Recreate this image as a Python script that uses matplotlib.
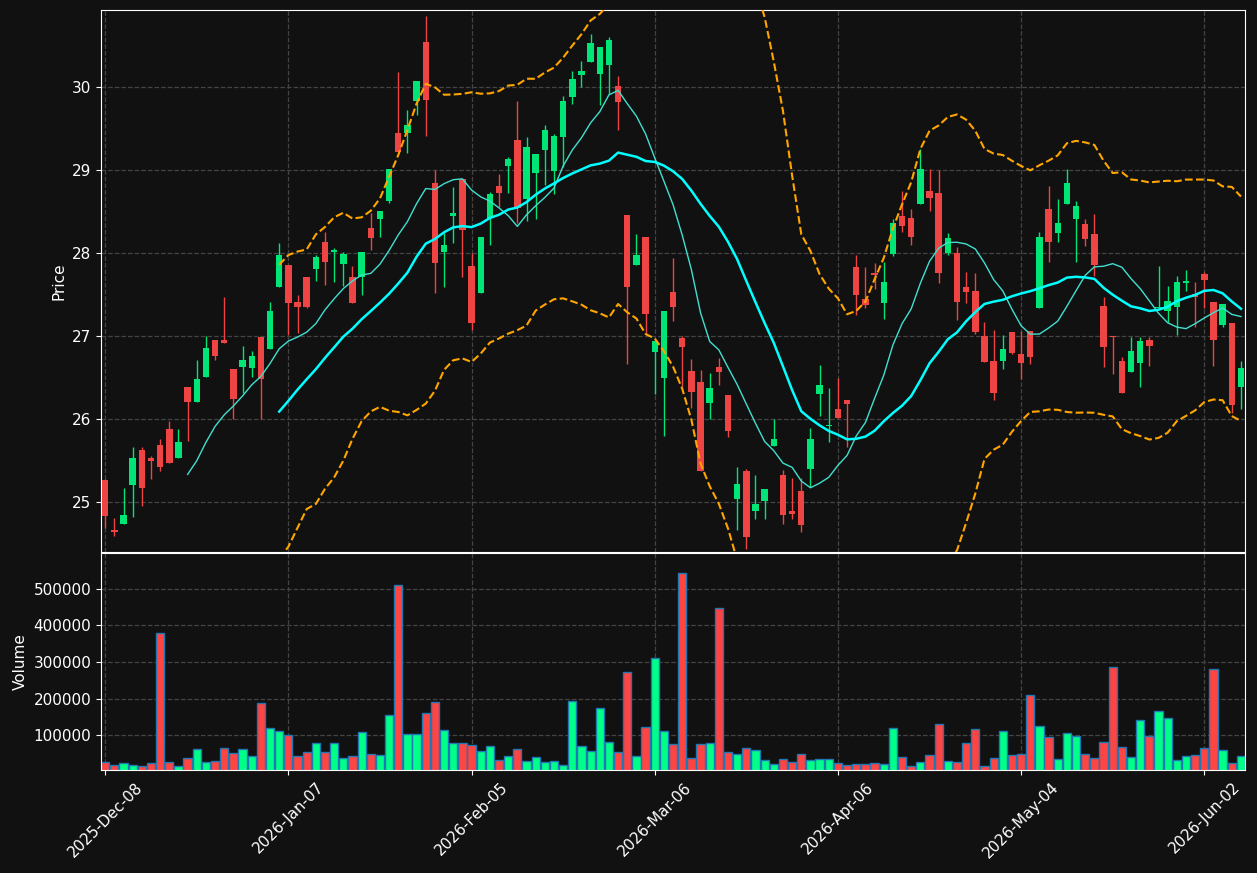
import matplotlib
matplotlib.use("Agg")
import matplotlib.pyplot as plt
import numpy as np
import pandas as pd

# daily OHLC + volume, 125 trading days starting 2025-12-08
holidays = ['2025-12-25', '2026-01-01', '2026-01-19', '2026-02-16', '2026-04-03', '2026-05-25']

opens = [25.27, 24.66, 24.74, 25.21, 25.63, 25.53, 25.69, 25.88, 25.53, 26.39,
         26.21, 26.51, 26.95, 26.95, 26.61, 26.63, 26.62, 26.99, 26.84, 27.59,
         27.86, 27.41, 27.71, 27.81, 28.13, 28.01, 27.87, 27.71, 27.71, 28.30,
         28.41, 28.63, 29.45, 29.45, 29.84, 30.55, 28.84, 28.02, 28.45, 28.90,
         27.84, 27.52, 28.43, 28.81, 29.05, 29.37, 28.65, 28.97, 29.24, 28.99,
         29.40, 29.88, 30.15, 30.30, 30.16, 30.27, 30.02, 28.46, 27.86, 28.20,
         26.81, 26.50, 27.53, 26.98, 26.58, 26.45, 26.19, 26.63, 26.29, 25.04,
         25.37, 24.90, 25.02, 25.68, 25.33, 24.89, 25.13, 25.40, 26.30, 25.92,
         26.12, 26.23, 27.83, 27.45, 27.76, 27.40, 27.99, 28.45, 28.42, 28.59,
         28.75, 28.72, 28.00, 28.00, 27.59, 27.54, 27.00, 26.70, 26.70, 27.05,
         26.78, 27.06, 27.34, 28.53, 28.24, 28.59, 28.41, 28.35, 28.23, 27.37,
         27.00, 26.70, 26.57, 26.68, 26.96, 27.34, 27.30, 27.35, 27.64, 27.51,
         27.75, 27.41, 27.14, 27.16, 26.39]
highs = [25.28, 24.81, 25.17, 25.67, 25.67, 25.56, 25.76, 25.98, 25.88, 26.39,
         26.71, 27.00, 26.95, 27.47, 26.61, 26.88, 26.82, 26.99, 27.41, 28.12,
         27.86, 27.50, 27.71, 27.98, 28.25, 28.06, 28.01, 27.85, 28.01, 28.48,
         28.51, 29.01, 30.18, 29.73, 30.07, 30.86, 29.00, 28.24, 28.80, 28.90,
         28.00, 28.19, 28.74, 28.95, 29.16, 29.84, 29.40, 29.19, 29.55, 29.44,
         29.89, 30.19, 30.31, 30.64, 30.49, 30.61, 30.14, 28.46, 28.23, 28.20,
         26.94, 27.30, 27.94, 27.00, 26.73, 26.59, 26.56, 26.74, 26.29, 25.42,
         25.40, 25.33, 25.16, 26.00, 25.39, 25.29, 25.29, 25.90, 26.65, 26.38,
         26.50, 26.23, 27.98, 27.83, 27.88, 27.89, 28.41, 28.75, 28.53, 29.26,
         29.01, 29.00, 28.24, 28.07, 27.77, 27.76, 27.17, 27.07, 27.02, 27.05,
         27.06, 27.06, 28.25, 28.81, 28.65, 29.01, 28.63, 28.41, 28.47, 27.47,
         27.00, 26.75, 26.99, 26.99, 26.99, 27.85, 27.60, 27.73, 27.80, 27.65,
         27.77, 27.41, 27.39, 27.16, 26.70]
lows = [24.69, 24.59, 24.74, 24.82, 24.96, 25.28, 25.37, 25.47, 25.53, 25.74,
        26.21, 26.51, 26.71, 26.92, 26.00, 26.31, 26.51, 26.00, 26.84, 27.59,
        27.01, 27.04, 27.34, 27.66, 27.62, 27.65, 27.61, 27.40, 27.50, 28.04,
        28.20, 28.61, 29.22, 29.21, 29.66, 29.41, 27.52, 27.59, 28.12, 27.71,
        27.07, 27.52, 28.10, 28.56, 28.73, 28.36, 28.39, 28.41, 28.82, 28.71,
        29.04, 29.80, 30.00, 30.30, 29.78, 29.92, 29.48, 26.66, 27.86, 27.03,
        26.30, 25.80, 27.18, 26.39, 26.13, 25.37, 26.00, 26.41, 25.79, 24.66,
        24.44, 24.80, 24.80, 25.68, 24.74, 24.80, 24.64, 25.18, 26.04, 25.72,
        26.02, 25.67, 27.25, 27.34, 27.57, 27.21, 27.97, 28.25, 28.10, 28.59,
        28.51, 27.64, 27.98, 27.19, 27.40, 27.03, 26.69, 26.23, 26.61, 26.78,
        26.49, 26.66, 27.34, 27.89, 28.14, 28.59, 27.90, 28.09, 27.73, 26.63,
        26.55, 26.31, 26.57, 26.39, 26.64, 27.34, 27.17, 27.02, 27.55, 27.11,
        27.34, 26.64, 27.11, 26.07, 26.12]
closes = [24.83, 24.64, 24.84, 25.53, 25.17, 25.50, 25.43, 25.47, 25.73, 26.21,
          26.48, 26.86, 26.76, 26.92, 26.24, 26.71, 26.76, 26.48, 27.30, 27.98,
          27.40, 27.35, 27.35, 27.95, 27.90, 28.04, 27.99, 27.40, 28.01, 28.18,
          28.51, 29.01, 29.22, 29.55, 30.07, 29.85, 27.88, 28.10, 28.49, 28.28,
          27.16, 28.19, 28.71, 28.73, 29.14, 28.55, 29.28, 29.19, 29.49, 29.41,
          29.83, 30.10, 30.19, 30.53, 30.49, 30.57, 29.82, 27.59, 27.98, 27.27,
          26.94, 27.30, 27.35, 26.87, 26.33, 25.37, 26.37, 26.57, 25.86, 25.22,
          24.58, 24.98, 25.16, 25.76, 24.84, 24.86, 24.72, 25.76, 26.41, 25.93,
          26.02, 26.18, 27.50, 27.38, 27.74, 27.65, 28.37, 28.33, 28.20, 29.01,
          28.67, 27.76, 28.18, 27.41, 27.53, 27.05, 26.69, 26.32, 26.84, 26.80,
          26.68, 26.75, 28.19, 28.14, 28.36, 28.84, 28.57, 28.17, 27.86, 26.87,
          26.99, 26.32, 26.82, 26.94, 26.88, 27.35, 27.42, 27.65, 27.67, 27.47,
          27.68, 26.95, 27.39, 26.17, 26.62]
volumes = [26000, 17800, 23300, 17800, 15000, 23300, 379500, 26000, 15000, 37000,
           61650, 26000, 28800, 64400, 50700, 61650, 42500, 187700, 119200, 111000,
           100000, 42500, 53400, 78100, 53400, 78100, 37000, 42500, 108200, 48000,
           45200, 154800, 511000, 102700, 102700, 160300, 190400, 113700, 78100, 78100,
           72600, 56200, 69900, 31500, 42500, 61650, 28800, 39700, 26000, 28800,
           17800, 193200, 69900, 56200, 174000, 80800, 53400, 272600, 42500, 121900,
           311000, 111000, 75300, 543900, 37000, 75300, 78100, 448000, 53400, 48000,
           64400, 58900, 31500, 20500, 34200, 26000, 48000, 31500, 34200, 34200,
           23300, 17800, 20500, 20500, 23300, 20500, 119200, 39700, 15000, 26000,
           45200, 130200, 28800, 26000, 78100, 116500, 15000, 37000, 111000, 45200,
           48000, 209600, 124700, 94500, 34200, 105500, 97300, 48000, 37000, 80800,
           286300, 67100, 39700, 141100, 97300, 165800, 146600, 31500, 42500, 45200,
           64400, 280800, 58900, 23300, 42500]

dates = pd.bdate_range('2025-12-08', periods=len(closes), freq='C', holidays=holidays)
df = pd.DataFrame({'Open': opens, 'High': highs, 'Low': lows,
                   'Close': closes, 'Volume': volumes}, index=dates)

# indicators
df['MA10'] = df['Close'].rolling(10).mean()
df['MA20'] = df['Close'].rolling(20).mean()
std20 = df['Close'].rolling(20).std(ddof=0)
df['Upper'] = df['MA20'] + 2 * std20
df['Lower'] = df['MA20'] - 2 * std20

bg = '#111111'
up_c, down_c = '#00e676', '#ef4444'
vup_c, vdown_c = '#00ff88', '#ff4444'

fig = plt.figure(figsize=(12.57, 8.73), dpi=100, facecolor=bg)
ax1 = fig.add_axes([0.0804, 0.3677, 0.9101, 0.6208])
ax2 = fig.add_axes([0.0804, 0.118, 0.9101, 0.2487], sharex=ax1)

x = np.arange(len(df))
o = df['Open'].values
c = df['Close'].values
up = c >= o
colors = np.where(up, up_c, down_c)

# candles
ax1.vlines(x, df['Low'], df['High'], colors=colors, linewidth=1, zorder=2)
body = np.maximum(np.abs(c - o), 0.012)
ax1.bar(x, body, bottom=np.minimum(o, c), width=0.7, color=colors, linewidth=0, zorder=3)

ax1.plot(x, df['MA10'], color='#40e0d0', linewidth=1, zorder=4)
ax1.plot(x, df['MA20'], color='#00ffff', linewidth=1.8, zorder=4)
ax1.plot(x, df['Upper'], color='orange', linestyle='--', linewidth=1.5, zorder=4)
ax1.plot(x, df['Lower'], color='orange', linestyle='--', linewidth=1.5, zorder=4)

# volume
vcolors = np.where(up, vup_c, vdown_c)
ax2.bar(x, df['Volume'], width=0.9, color=vcolors, edgecolor='#1f77b4', linewidth=1)

ax1.set_ylim(24.40, 30.93)
ax1.set_xlim(-0.45, 124.45)
ax2.set_ylim(5000, df['Volume'].max() * 1.1)
ax2.ticklabel_format(axis='y', style='plain')

ticks = x[::20]
ax2.set_xticks(ticks)
ax2.set_xticklabels([d.strftime('%Y-%b-%d') for d in df.index[::20]], rotation=45)
plt.setp(ax1.get_xticklabels(), visible=False)

ax1.set_ylabel('Price', color='white', fontsize=11)
ax2.set_ylabel('Volume', color='white', fontsize=11)

for ax in (ax1, ax2):
    ax.set_facecolor(bg)
    ax.grid(True, linestyle='--', color='#444444', linewidth=0.9)
    ax.set_axisbelow(True)
    ax.tick_params(colors='white', labelsize=11)
    for s in ax.spines.values():
        s.set_color('white')

fig.savefig('out.png', dpi=100, facecolor=bg)
